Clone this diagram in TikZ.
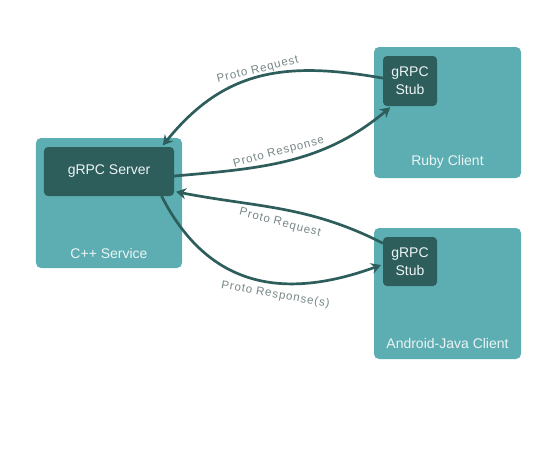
\documentclass[tikz,border=0pt]{standalone}
\usepackage{fontspec}
\setmainfont{Liberation Sans}
\newfontfamily\lblfont[LetterSpace=8]{Liberation Sans}
\usetikzlibrary{positioning,arrows.meta}
\definecolor{tealbox}{RGB}{92,174,179}
\definecolor{darkbox}{RGB}{46,94,92}
\definecolor{captext}{RGB}{236,244,244}
\definecolor{lblgrey}{RGB}{118,134,134}

\begin{document}
\begin{tikzpicture}
[x=1pt,y=1pt,
 every node/.style={inner sep=0mm,outer sep=0mm,font=\fontsize{14}{18}\selectfont},
 hostbox/.style={rectangle,rounded corners=5pt,fill=tealbox,minimum width=147pt,minimum height=131pt},
 grpcbox/.style={rectangle,rounded corners=4pt,fill=darkbox,text=captext,align=center},
 hostcap/.style={text=captext},
 lbl/.style={text=lblgrey,font=\lblfont\fontsize{11.5}{13}\selectfont},
 link/.style={draw=darkbox,line width=2.7pt,shorten >=2pt,-{Stealth[length=10pt,width=11pt]}}]
\useasboundingbox (-109,-250) rectangle (442,203);
\node[hostbox,minimum width=146pt,minimum height=130pt] (svc) at (0,0) {};
\node[grpcbox,minimum width=130pt,minimum height=49pt] (srv) [on grid,above=31.5pt of svc] {gRPC Server};
\node[hostcap] (svccap) [on grid,below=50pt of svc] {C++ Service};
\node[hostbox] (ruby) [on grid,above right=90.5pt and 338.5pt of svc] {};
\node[grpcbox,minimum width=54pt,minimum height=50pt] (rstub) [on grid,above left=31.5pt and 37.5pt of ruby] {gRPC\\Stub};
\node[hostcap] (rubycap) [on grid,below=49.5pt of ruby] {Ruby Client};
\node[hostbox] (andr) [on grid,below right=90.5pt and 338.5pt of svc] {};
\node[grpcbox,minimum width=54pt,minimum height=49pt] (astub) [on grid,above left=32pt and 37.5pt of andr] {gRPC\\Stub};
\node[hostcap] (andrcap) [on grid,below=49.5pt of andr] {Android-Java Client};
\path[link] (rstub.174) to[out=170,in=51,looseness=1.1]
  node[lbl,pos=.5,above=2pt,rotate=14] {Proto Request} (srv.25);
\path[link] (srv.-4) to[out=5,in=220]
  node[lbl,pos=.45,above=5pt,rotate=15] {Proto Response} (rstub.-126);
\path[link] (astub.146) to[out=153,in=-11]
  node[lbl,pos=.5,below=9pt,rotate=-15] {Proto Request} (srv.-17);
\path[link] (srv.-25) to[out=-63,in=200,looseness=1.15]
  node[lbl,pos=.6,below=7pt,rotate=-10] {Proto Response(s)} (astub.186);
\end{tikzpicture}
\end{document}
